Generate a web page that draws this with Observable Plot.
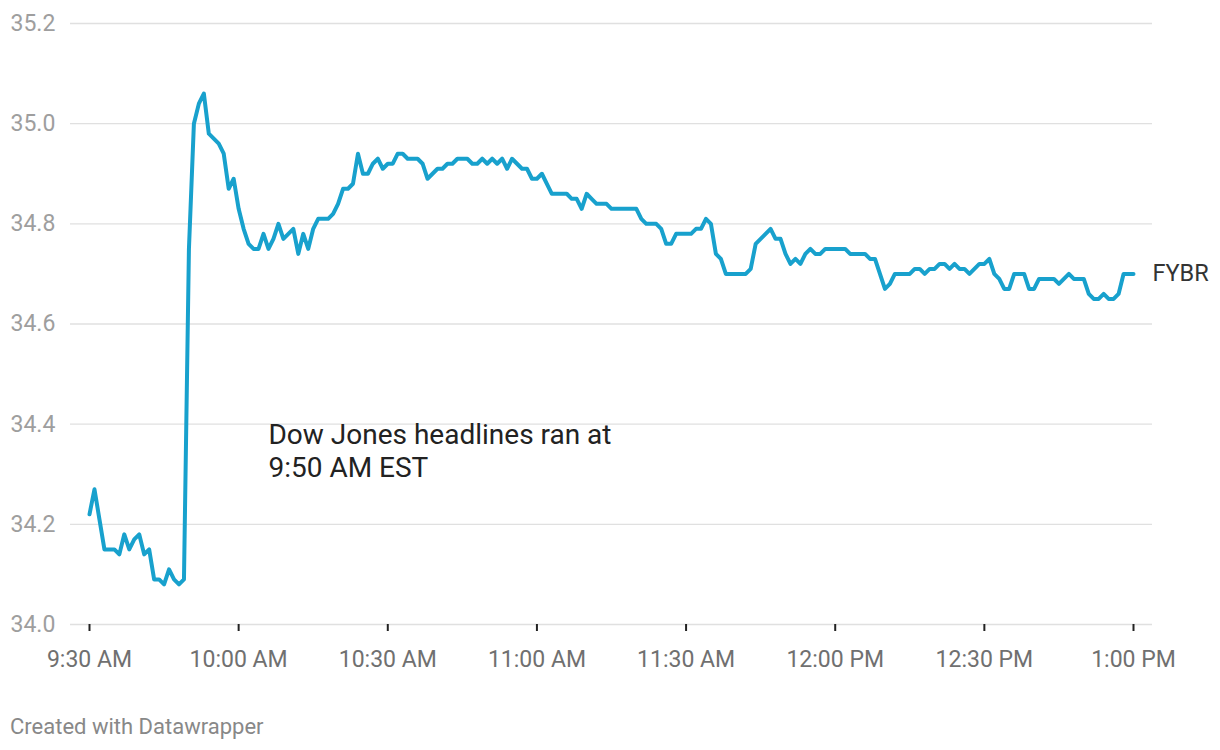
<!DOCTYPE html>
<html>
<head>
<meta charset="utf-8">
<script src="https://cdn.jsdelivr.net/npm/d3@7"></script>
<script src="https://cdn.jsdelivr.net/npm/@observablehq/plot@0.6"></script>
<style>
  body { margin: 0; background: #fff; font-family: Roboto, sans-serif; }
  #chart svg { display: block; }
  #caption { margin: 13px 0 0 10px; font-size: 22px; line-height: 27px; color: #888; }
</style>
</head>
<body>
<div id="chart"></div>
<div id="caption">Created with Datawrapper</div>
<script>
// ---- data ----
const symbol = "FYBR";
// one price per minute, starting at 9:30 AM
const sessionStart = { year: 2023, month: 0, day: 3, hour: 9, minute: 30 };
const prices = [
  34.22, 34.27, 34.21, 34.15, 34.15, 34.15, 34.14, 34.18, 34.15, 34.17,
  34.18, 34.14, 34.15, 34.09, 34.09, 34.08, 34.11, 34.09, 34.08, 34.09,
  34.75, 35.00, 35.04, 35.06, 34.98, 34.97, 34.96, 34.94, 34.87, 34.89,
  34.83, 34.79, 34.76, 34.75, 34.75, 34.78, 34.75, 34.77, 34.80, 34.77,
  34.78, 34.79, 34.74, 34.78, 34.75, 34.79, 34.81, 34.81, 34.81, 34.82,
  34.84, 34.87, 34.87, 34.88, 34.94, 34.90, 34.90, 34.92, 34.93, 34.91,
  34.92, 34.92, 34.94, 34.94, 34.93, 34.93, 34.93, 34.92, 34.89, 34.90,
  34.91, 34.91, 34.92, 34.92, 34.93, 34.93, 34.93, 34.92, 34.92, 34.93,
  34.92, 34.93, 34.92, 34.93, 34.91, 34.93, 34.92, 34.91, 34.91, 34.89,
  34.89, 34.90, 34.88, 34.86, 34.86, 34.86, 34.86, 34.85, 34.85, 34.83,
  34.86, 34.85, 34.84, 34.84, 34.84, 34.83, 34.83, 34.83, 34.83, 34.83,
  34.83, 34.81, 34.80, 34.80, 34.80, 34.79, 34.76, 34.76, 34.78, 34.78,
  34.78, 34.78, 34.79, 34.79, 34.81, 34.80, 34.74, 34.73, 34.70, 34.70,
  34.70, 34.70, 34.70, 34.71, 34.76, 34.77, 34.78, 34.79, 34.77, 34.77,
  34.74, 34.72, 34.73, 34.72, 34.74, 34.75, 34.74, 34.74, 34.75, 34.75,
  34.75, 34.75, 34.75, 34.74, 34.74, 34.74, 34.74, 34.73, 34.73, 34.70,
  34.67, 34.68, 34.70, 34.70, 34.70, 34.70, 34.71, 34.71, 34.70, 34.71,
  34.71, 34.72, 34.72, 34.71, 34.72, 34.71, 34.71, 34.70, 34.71, 34.72,
  34.72, 34.73, 34.70, 34.69, 34.67, 34.67, 34.70, 34.70, 34.70, 34.67,
  34.67, 34.69, 34.69, 34.69, 34.69, 34.68, 34.69, 34.70, 34.69, 34.69,
  34.69, 34.66, 34.65, 34.65, 34.66, 34.65, 34.65, 34.66, 34.70, 34.70,
  34.70
];
const yTicks = [34.0, 34.2, 34.4, 34.6, 34.8, 35.0, 35.2];
const xTickTimes = [[9, 30], [10, 0], [10, 30], [11, 0], [11, 30], [12, 0], [12, 30], [13, 0]];
const xTickLabels = ["9:30 AM", "10:00 AM", "10:30 AM", "11:00 AM", "11:30 AM", "12:00 PM", "12:30 PM", "1:00 PM"];
const annotationText = "Dow Jones headlines ran at\n9:50 AM EST";
const annotationTime = [10, 6];
const annotationPrice = 34.348;

// ---- build table ----
const s = sessionStart;
const at = (h, m) => new Date(s.year, s.month, s.day, h, m);
const series = prices.map((p, i) => ({ time: at(s.hour, s.minute + i), price: p }));
const tickDates = xTickTimes.map(([h, m]) => at(h, m));
const last = series[series.length - 1];

const chart = Plot.plot({
  width: 1220,
  height: 700,
  marginTop: 23,
  marginBottom: 76,
  marginLeft: 89,
  marginRight: 87,
  style: { fontFamily: "Roboto, sans-serif", background: "#fff" },
  x: { type: "time", domain: [series[0].time, last.time], axis: null },
  y: { domain: [34.0, 35.2], axis: null },
  marks: [
    Plot.ruleY(yTicks, { stroke: "#e0e0e0", strokeWidth: 1.3, insetLeft: -19, insetRight: -19 }),
    Plot.text(yTicks, {
      y: d => d, text: d => d.toFixed(1), frameAnchor: "left", textAnchor: "start",
      dx: -79, fill: "#9e9e9e", fontSize: 23
    }),
    Plot.axisX({
      ticks: tickDates,
      tickFormat: (d) => xTickLabels[tickDates.findIndex(t => +t === +d)],
      tickSize: 7, tickPadding: 19, stroke: "#222", strokeWidth: 2,
      fill: "#707070", fontSize: 23, label: null
    }),
    Plot.line(series, { x: "time", y: "price", stroke: "#18a1cd", strokeWidth: 4, strokeLinejoin: "round" }),
    Plot.text([last], {
      x: "time", y: "price", text: () => symbol, textAnchor: "start", dx: 19,
      fill: "#333", fontSize: 23.5
    }),
    Plot.text([{ time: at(...annotationTime), price: annotationPrice, label: annotationText }], {
      x: "time", y: "price", text: "label", textAnchor: "start", lineAnchor: "middle",
      lineHeight: 1.18, fontSize: 28, fill: "#222"
    })
  ]
});
document.getElementById("chart").appendChild(chart);
</script>
</body>
</html>
